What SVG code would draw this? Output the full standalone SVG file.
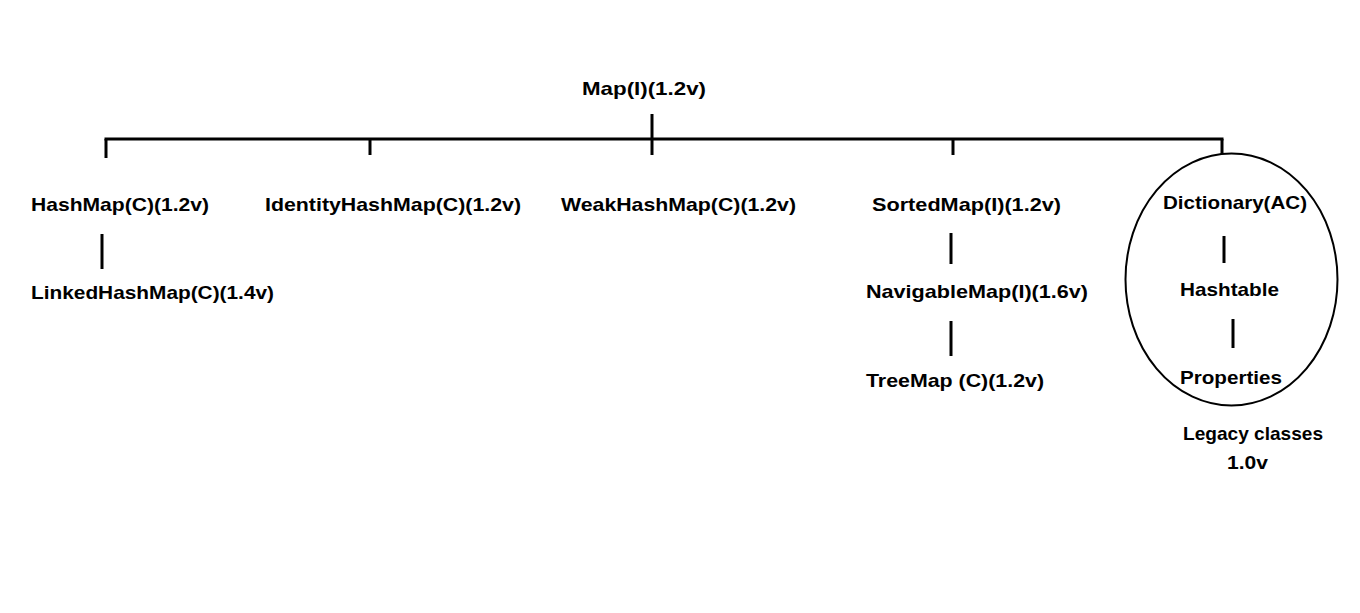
<svg xmlns="http://www.w3.org/2000/svg" width="1360" height="613" viewBox="0 0 1360 613">
<style>
text{font-family:"Liberation Sans",Arial,sans-serif;font-weight:bold;font-size:19px;fill:#000;text-anchor:middle}
.c line{stroke:#000;stroke-width:3}
</style>
<rect width="1360" height="613" fill="#fff"/>
<g class="c" id="connectors">
<line x1="652" y1="114" x2="652" y2="155"/>
<line x1="104.5" y1="139" x2="1223.5" y2="139"/>
<line x1="106" y1="139" x2="106" y2="158"/>
<line x1="370" y1="139" x2="370" y2="155"/>
<line x1="953" y1="139" x2="953" y2="155"/>
<line x1="1222" y1="139" x2="1222" y2="154"/>
<line x1="102" y1="234" x2="102" y2="269"/>
<line x1="951" y1="233" x2="951" y2="264"/>
<line x1="951" y1="321" x2="951" y2="356"/>
<line x1="1224" y1="236" x2="1224" y2="263"/>
<line x1="1233" y1="319" x2="1233" y2="348"/>
</g>
<g id="legacy-group">
<ellipse cx="1231.5" cy="279.5" rx="106" ry="126" fill="none" stroke="#000" stroke-width="2"/>
<text x="1253" y="440" textLength="140" lengthAdjust="spacingAndGlyphs">Legacy classes</text>
<text x="1247.5" y="469" textLength="41" lengthAdjust="spacingAndGlyphs">1.0v</text>
</g>
<g id="map"><text x="644" y="95" textLength="124" lengthAdjust="spacingAndGlyphs">Map(I)(1.2v)</text></g>
<g id="hashmap"><text x="120" y="211" textLength="178" lengthAdjust="spacingAndGlyphs">HashMap(C)(1.2v)</text></g>
<g id="identityhashmap"><text x="393" y="211" textLength="256" lengthAdjust="spacingAndGlyphs">IdentityHashMap(C)(1.2v)</text></g>
<g id="weakhashmap"><text x="678.5" y="211" textLength="235" lengthAdjust="spacingAndGlyphs">WeakHashMap(C)(1.2v)</text></g>
<g id="sortedmap"><text x="966.5" y="211" textLength="189" lengthAdjust="spacingAndGlyphs">SortedMap(I)(1.2v)</text></g>
<g id="dictionary"><text x="1235" y="209" textLength="144" lengthAdjust="spacingAndGlyphs">Dictionary(AC)</text></g>
<g id="linkedhashmap"><text x="152.5" y="299" textLength="243" lengthAdjust="spacingAndGlyphs">LinkedHashMap(C)(1.4v)</text></g>
<g id="navigablemap"><text x="977" y="298" textLength="222" lengthAdjust="spacingAndGlyphs">NavigableMap(I)(1.6v)</text></g>
<g id="hashtable"><text x="1229.5" y="296" textLength="99" lengthAdjust="spacingAndGlyphs">Hashtable</text></g>
<g id="treemap"><text x="955" y="387" textLength="178" lengthAdjust="spacingAndGlyphs">TreeMap (C)(1.2v)</text></g>
<g id="properties"><text x="1231" y="384" textLength="102" lengthAdjust="spacingAndGlyphs">Properties</text></g>
</svg>
